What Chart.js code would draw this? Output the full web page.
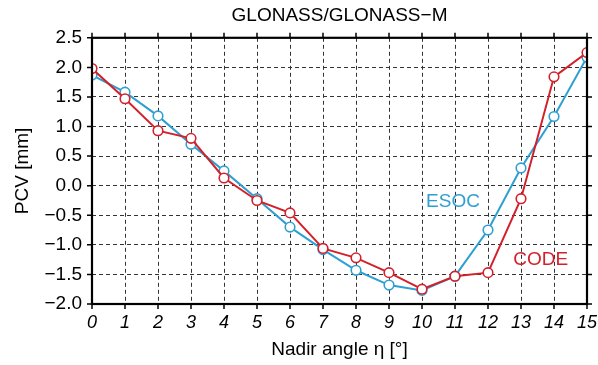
<!DOCTYPE html>
<html>
<head>
<meta charset="utf-8">
<script src="https://cdn.jsdelivr.net/npm/chart.js@4.4.1/dist/chart.umd.min.js"></script>
<style>
  html, body { margin: 0; padding: 0; background: #fff; }
</style>
</head>
<body>
<canvas id="myChart" width="598" height="365"></canvas>
<script>
const angles = [0, 1, 2, 3, 4, 5, 6, 7, 8, 9, 10, 11, 12, 13, 14, 15];
const esoc = [1.87, 1.58, 1.18, 0.70, 0.25, -0.22, -0.70, -1.08, -1.43, -1.68, -1.77, -1.53, -0.75, 0.30, 1.17, 2.17];
const code = [1.98, 1.47, 0.93, 0.80, 0.13, -0.25, -0.46, -1.06, -1.22, -1.47, -1.75, -1.53, -1.47, -0.22, 1.84, 2.25];

// series names written inside the plot, placed in data units
const seriesLabels = ["ESOC", "CODE"];
const labelX = [10.94, 13.6];
const labelY = [-0.27, -1.26];

const blue = "#2e9fd2";
const red = "#d3212b";
const font = "'Liberation Sans', Arial, Helvetica, sans-serif";

const toPoints = (vals) => vals.map((v, i) => ({ x: angles[i], y: v }));

// frame, outward tick marks and the in-plot labels
const framePlugin = {
  id: "frame",
  afterDraw(chart) {
    const { ctx, chartArea: a, scales } = chart;
    const x = scales.x;
    const y = scales.y;
    ctx.save();
    ctx.strokeStyle = "#000";
    ctx.lineWidth = 1.5;
    ctx.beginPath();
    x.ticks.forEach((t) => {
      const px = x.getPixelForValue(t.value);
      ctx.moveTo(px, a.bottom);
      ctx.lineTo(px, a.bottom + 5);
      ctx.moveTo(px, a.top);
      ctx.lineTo(px, a.top - 5);
    });
    y.ticks.forEach((t) => {
      const py = y.getPixelForValue(t.value);
      ctx.moveTo(a.left, py);
      ctx.lineTo(a.left - 5, py);
      ctx.moveTo(a.right, py);
      ctx.lineTo(a.right + 5, py);
    });
    ctx.stroke();
    ctx.lineWidth = 2.2;
    ctx.strokeRect(a.left, a.top, a.right - a.left, a.bottom - a.top);

    ctx.font = "19px " + font;
    ctx.textAlign = "center";
    ctx.textBaseline = "middle";
    const cols = [blue, red];
    seriesLabels.forEach((s, i) => {
      ctx.fillStyle = cols[i];
      ctx.fillText(s, x.getPixelForValue(labelX[i]), y.getPixelForValue(labelY[i]));
    });
    ctx.restore();
  },
};

const config = {
  type: "line",
  data: {
    datasets: [
      {
        label: "ESOC",
        data: toPoints(esoc),
        borderColor: blue,
        borderWidth: 2,
        pointRadius: 4.8,
        pointBorderWidth: 1.6,
        pointBorderColor: blue,
        pointBackgroundColor: "#fff",
        order: 1,
      },
      {
        label: "CODE",
        data: toPoints(code),
        borderColor: red,
        borderWidth: 2,
        pointRadius: 4.8,
        pointBorderWidth: 1.6,
        pointBorderColor: red,
        pointBackgroundColor: "#fff",
        order: 0,
      },
    ],
  },
  options: {
    responsive: false,
    animation: false,
    layout: {
      padding: { left: 0, right: 11, top: 0, bottom: 0 },
    },
    plugins: {
      legend: { display: false },
      tooltip: { enabled: false },
      title: {
        display: true,
        text: "GLONASS/GLONASS\u2212M",
        color: "#000",
        fullSize: false,
        font: { family: font, size: 19, weight: "normal" },
        padding: { top: 4, bottom: 11 },
      },
    },
    scales: {
      x: {
        type: "linear",
        min: 0,
        max: 15,
        afterFit: (s) => {
          s.height = 61;
          s.paddingLeft = 0;
          s.paddingRight = 0;
        },
        ticks: {
          stepSize: 1,
          color: "#000",
          padding: 8,
          font: { family: font, size: 18, style: "italic" },
        },
        grid: { color: "#333", lineWidth: 1, drawTicks: false },
        border: { display: false, dash: [4, 3] },
        title: {
          display: true,
          text: "Nadir angle \u03b7 [\u00b0]",
          color: "#000",
          font: { family: font, size: 19 },
          padding: 4,
        },
      },
      y: {
        min: -2,
        max: 2.5,
        afterFit: (s) => {
          s.width = 92;
          s.paddingTop = 0;
          s.paddingBottom = 0;
        },
        ticks: {
          stepSize: 0.5,
          color: "#000",
          padding: 10,
          font: { family: font, size: 19 },
          callback: (v) => v.toFixed(1).replace("-", "\u2212"),
        },
        grid: { color: "#333", lineWidth: 1, drawTicks: false },
        border: { display: false, dash: [4, 3] },
        title: {
          display: true,
          text: "PCV [mm]",
          color: "#000",
          font: { family: font, size: 19 },
          padding: 11,
        },
      },
    },
  },
  plugins: [framePlugin],
};

const myChart = new Chart(document.getElementById("myChart"), config);
</script>
</body>
</html>
